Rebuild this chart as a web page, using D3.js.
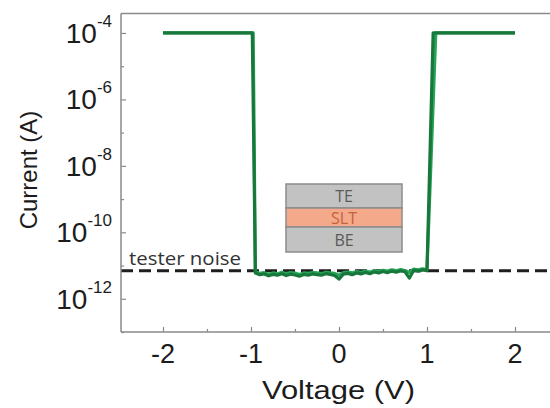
<!DOCTYPE html>
<html>
<head>
<meta charset="utf-8">
<script src="https://cdn.jsdelivr.net/npm/d3@7"></script>
<style>
  html, body { margin: 0; padding: 0; background: #fff; }
  svg { display: block; }
</style>
</head>
<body>
<svg id="chart" width="550" height="408"></svg>
<script>
// ---------------- data ----------------
const compliance = 1e-4;          // A, current compliance
const testerNoise = 7e-12;        // A, dashed noise floor
const noiseV = d3.range(40).map(i => +(-0.95 + 0.05 * i).toFixed(2)); // low-state sweep voltages
// low-state current (x1e-12 A), sweep 1 (dark) and sweep 2 (light)
const lowSweep1 = [6.0,5.3,5.6,4.9,5.4,5.1,5.7,5.0,5.5,5.2,4.8,5.4,5.1,5.6,5.3,5.1,5.7,5.4,5.0,3.9,
                   5.5,5.8,5.3,6.0,5.6,6.2,5.7,6.4,6.0,6.6,6.1,6.8,6.3,7.0,6.5,4.2,7.2,6.8,7.4,7.0];
const lowSweep2 = [6.5,5.8,6.1,5.5,6.0,5.6,6.3,5.7,6.1,5.9,5.4,6.0,5.8,6.2,6.0,5.7,6.3,6.0,5.8,5.1,
                   6.1,6.4,6.0,6.6,6.2,6.8,6.4,7.0,6.6,7.2,6.8,7.4,7.0,7.6,7.1,6.2,7.8,7.4,8.0,7.6];
// on-state segments: [V, I]
const onLeft1  = [[-2.0, 1e-4], [-0.985, 1e-4]];
const onRight1 = [[1.07, 1e-4], [2.0, 1e-4]];
const onLeft2  = [[-2.0, 1e-4], [-0.975, 1e-4]];
const onRight2 = [[1.10, 1e-4], [2.0, 1e-4]];
const xTicks = [-2, -1, 0, 1, 2];
const xMinorTicks = [-1.5, -0.5, 0.5, 1.5];
const yTickExps = [-4, -6, -8, -10, -12];
const yMinorExps = [-5, -7, -9, -11, -13];
const layerNames = ["TE", "SLT", "BE"];

// build sweeps
function buildSweep(leftSeg, low, rightSeg) {
  return leftSeg.concat(noiseV.map((v, i) => [v, low[i] * 1e-12])).concat(rightSeg);
}
const sweep1 = buildSweep(onLeft1, lowSweep1, onRight1);
const sweep2 = buildSweep(onLeft2, lowSweep2, onRight2);

// ---------------- layout ----------------
const svg = d3.select("#chart");
const pLeft = 121, pRight = 550, pTop = 13.5, pBottom = 332;

const x = d3.scaleLinear().domain([-2.477, 2.398]).range([pLeft, pRight]);
const y = d3.scaleLog().domain([1.0e-13, 3.85e-4]).range([pBottom, pTop]);

const axisColor = "#8a8a8a";

// dashed tester noise line
svg.append("line")
  .attr("x1", pLeft).attr("x2", pRight)
  .attr("y1", y(testerNoise)).attr("y2", y(testerNoise))
  .attr("stroke", "#1e1e1e").attr("stroke-width", 3)
  .attr("stroke-dasharray", "12,6");

svg.append("text")
  .attr("x", 129).attr("y", y(testerNoise) - 6)
  .attr("font-family", "'Open Sans', sans-serif")
  .attr("font-size", 18).attr("fill", "#333")
  .attr("textLength", 112).attr("lengthAdjust", "spacingAndGlyphs")
  .text("tester noise");

// curves
const line = d3.line().x(d => x(d[0])).y(d => y(d[1]));
svg.append("path").datum(sweep2)
  .attr("d", line).attr("fill", "none")
  .attr("stroke", "#27a458").attr("stroke-width", 3.2).attr("stroke-linejoin", "round");
svg.append("path").datum(sweep1)
  .attr("d", line).attr("fill", "none")
  .attr("stroke", "#18783c").attr("stroke-width", 3.2).attr("stroke-linejoin", "round");

// axes frame
svg.append("line").attr("x1", pLeft).attr("x2", pRight).attr("y1", pTop).attr("y2", pTop)
  .attr("stroke", axisColor).attr("stroke-width", 1.5);
svg.append("line").attr("x1", pLeft).attr("x2", pRight).attr("y1", pBottom).attr("y2", pBottom)
  .attr("stroke", axisColor).attr("stroke-width", 1.5);
svg.append("line").attr("x1", pLeft).attr("x2", pLeft).attr("y1", pTop).attr("y2", pBottom)
  .attr("stroke", axisColor).attr("stroke-width", 1.5);

// x axis ticks (inward)
const gx = svg.append("g").attr("transform", `translate(0,${pBottom})`)
  .call(d3.axisBottom(x).tickValues(xTicks).tickSizeInner(-5).tickSizeOuter(0).tickFormat(""));
gx.select(".domain").remove();
gx.selectAll("line").attr("stroke", axisColor).attr("stroke-width", 1.2);
const gxm = svg.append("g").attr("transform", `translate(0,${pBottom})`)
  .call(d3.axisBottom(x).tickValues(xMinorTicks).tickSizeInner(-3).tickSizeOuter(0).tickFormat(""));
gxm.select(".domain").remove();
gxm.selectAll("line").attr("stroke", axisColor).attr("stroke-width", 1.2);

svg.append("g").selectAll("text").data(xTicks).join("text")
  .attr("x", d => x(d)).attr("y", pBottom + 31)
  .attr("text-anchor", "middle")
  .attr("font-family", "'Liberation Sans', Arial, sans-serif")
  .attr("font-size", 27).attr("fill", "#1c1c1c")
  .text(d => d < 0 ? "-" + Math.abs(d) : String(d));

// y axis ticks (inward)
const gy = svg.append("g").attr("transform", `translate(${pLeft},0)`)
  .call(d3.axisLeft(y).tickValues(yTickExps.map(e => Math.pow(10, e))).tickSizeInner(-5).tickSizeOuter(0).tickFormat(""));
gy.select(".domain").remove();
gy.selectAll("line").attr("stroke", axisColor).attr("stroke-width", 1.2);
const gym = svg.append("g").attr("transform", `translate(${pLeft},0)`)
  .call(d3.axisLeft(y).tickValues(yMinorExps.map(e => Math.pow(10, e))).tickSizeInner(-3).tickSizeOuter(0).tickFormat(""));
gym.select(".domain").remove();
gym.selectAll("line").attr("stroke", axisColor).attr("stroke-width", 1.2);

const ylab = svg.append("g").selectAll("text").data(yTickExps).join("text")
  .attr("x", 112).attr("y", d => y(Math.pow(10, d)) + 10)
  .attr("text-anchor", "end")
  .attr("font-family", "'Liberation Sans', Arial, sans-serif")
  .attr("fill", "#1c1c1c");
ylab.append("tspan").attr("font-size", 28).text("10");
ylab.append("tspan").attr("font-size", 17).attr("dy", -16).text(d => String(d));

// axis titles
svg.append("text")
  .attr("x", 338.5).attr("y", 399)
  .attr("text-anchor", "middle")
  .attr("font-family", "'Liberation Sans', Arial, sans-serif")
  .attr("font-size", 26).attr("fill", "#1c1c1c")
  .attr("textLength", 153).attr("lengthAdjust", "spacingAndGlyphs")
  .text("Voltage (V)");

svg.append("text")
  .attr("transform", "translate(37,170) rotate(-90)")
  .attr("text-anchor", "middle")
  .attr("font-family", "'Liberation Sans', Arial, sans-serif")
  .attr("font-size", 24).attr("fill", "#1c1c1c")
  .text("Current (A)");

// inset device stack
const inset = { x: 286, w: 116, rows: [[184, 24], [208, 19], [227, 25]] };
const fills = ["#c2c2c2", "#f4a98b", "#c2c2c2"];
const textColors = ["#5a5a5a", "#c4623a", "#5a5a5a"];
const gi = svg.append("g");
gi.selectAll("rect").data(layerNames).join("rect")
  .attr("x", inset.x).attr("y", (d, i) => inset.rows[i][0])
  .attr("width", inset.w).attr("height", (d, i) => inset.rows[i][1])
  .attr("fill", (d, i) => fills[i]).attr("stroke", "#8c8c8c").attr("stroke-width", 1.5);
gi.selectAll("text").data(layerNames).join("text")
  .attr("x", inset.x + inset.w / 2)
  .attr("y", (d, i) => inset.rows[i][0] + inset.rows[i][1] / 2 + 6)
  .attr("text-anchor", "middle")
  .attr("font-family", "'Open Sans', sans-serif")
  .attr("font-size", 16).attr("fill", (d, i) => textColors[i])
  .text(d => d);
</script>
</body>
</html>
